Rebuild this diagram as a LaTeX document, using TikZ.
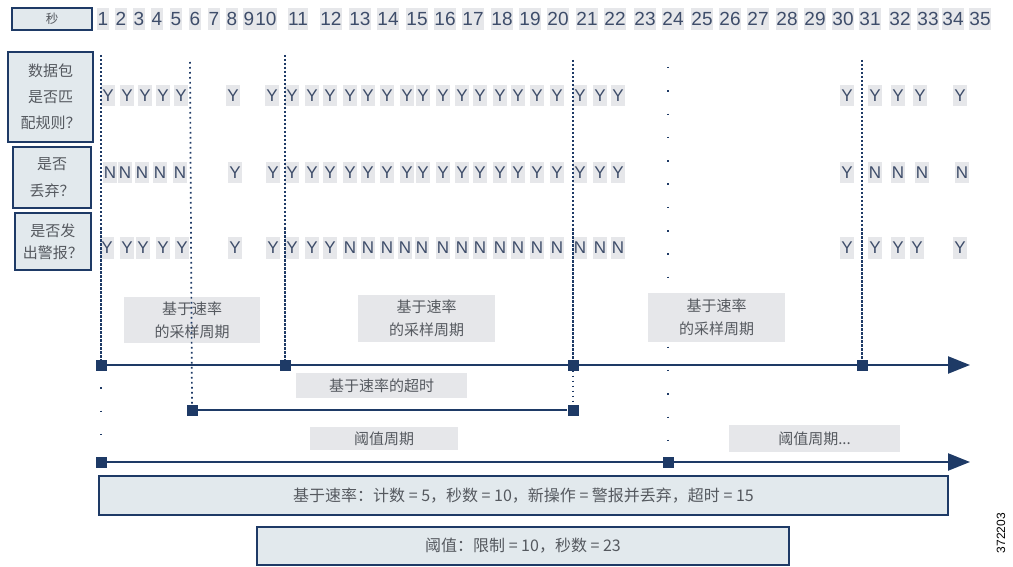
\documentclass[tikz,border=0pt]{standalone}
\usepackage{fontspec}
\setmainfont{Liberation Sans}
\newfontfamily\cjk{Noto Sans CJK SC}
\usetikzlibrary{arrows.meta}
\definecolor{navy}{HTML}{1E3A66}
\definecolor{txt}{HTML}{3E4D6A}
\definecolor{lblfill}{HTML}{E2E9ED}
\definecolor{gbg}{HTML}{E6E7EA}
\definecolor{cjktxt}{HTML}{55595F}
\begin{document}
\begin{tikzpicture}[x=1pt,y=-1pt,
  hdr/.style={fill=gbg, text=txt, font=\fontsize{19}{19}\selectfont, inner xsep=0.6pt, inner ysep=0pt, minimum height=22pt},
  yn/.style={fill=gbg, text=txt, font=\fontsize{17}{17}\selectfont, inner sep=0pt, minimum width=14pt, minimum height=21pt},
  lab/.style={draw=navy, line width=2pt, fill=lblfill, text=cjktxt, align=center, inner sep=0pt},
  gbox/.style={fill=gbg, text=cjktxt, font=\cjk\fontsize{15}{23}\selectfont, align=center, inner sep=0pt},
  bbox/.style={draw=navy, line width=2pt, fill=lblfill, text=cjktxt, font=\cjk\fontsize{16}{18}\selectfont, inner sep=0pt},
  sq/.style={fill=navy, minimum size=11pt, inner sep=0pt},
  tl/.style={navy, line width=2.4pt},
  dashv/.style={navy, line width=1.7pt, dash pattern=on 2.5pt off 1.5pt},
  dotv/.style={navy, line width=1.7pt, dash pattern=on 1.6pt off 3.4pt},
  sparse/.style={navy, line width=1.6pt, dash pattern=on 1.5pt off 21.8pt}
]
\useasboundingbox (0,0) rectangle (1013,567);

% left label boxes
\node[lab, minimum width=80pt, minimum height=22pt, font=\cjk\fontsize{12.5}{14}\selectfont] (sec) at (52,19) {秒};
\node[lab, minimum width=85pt, minimum height=90pt, font=\cjk\fontsize{15}{26}\selectfont] (match) at (50.5,97) {数据包\\是否匹\\配规则？};
\node[lab, minimum width=78pt, minimum height=61pt, font=\cjk\fontsize{15}{27}\selectfont] (drop) at (52,177.5) {是否\\丢弃？};
\node[lab, minimum width=76pt, minimum height=57pt, font=\cjk\fontsize{15}{22}\selectfont] (alert) at (53,241.5) {是否发\\出警报？};

% header seconds
\foreach \n/\x in {1/103,2/121,3/139,4/157,5/176,6/195,7/214,8/232,9/249,10/266,
  11/298,12/331,13/360,14/388,15/417,16/445,17/473,18/502,19/530,20/558,
  21/587,22/615,23/645,24/673,25/702,26/730,27/758,28/787,29/815,30/843,
  31/870,32/900,33/928,34/953,35/980}
  \node[hdr] (h\n) at (\x,19) {\n};

% gray labels (under the lines)
\node[gbox, minimum width=136pt, minimum height=46pt] (g1) at (192,320) {基于速率\\的采样周期};
\node[gbox, minimum width=137pt, minimum height=47pt] (g2) at (426.5,318.5) {基于速率\\的采样周期};
\node[gbox, minimum width=171pt, minimum height=25pt] (gto) at (381.5,385.5) {基于速率的超时};
\node[gbox, minimum width=148pt, minimum height=23pt] (gth) at (384,438.5) {阈值周期};
\node[gbox, minimum width=171pt, minimum height=27pt] (gth2) at (814.5,438.5) {阈值周期...};

% Y/N rows
\foreach \x/\t [count=\i] in {108/Y,127/Y,145/Y,163/Y,181/Y,233/Y,272/Y,
  292/Y,312/Y,330/Y,350/Y,368/Y,387/Y,407/Y,423/Y,443/Y,462/Y,480/Y,500/Y,518/Y,537/Y,557/Y,
  580/Y,600/Y,618/Y,847/Y,875/Y,898/Y,920/Y,960/Y}
  \node[yn] (ra\i) at (\x,96) {\t};
\foreach \x/\t [count=\i] in {110/N,125/N,142/N,160/N,180/N,235/Y,273/Y,
  292/Y,312/Y,330/Y,350/Y,368/Y,387/Y,407/Y,423/Y,443/Y,462/Y,480/Y,500/Y,518/Y,537/Y,557/Y,
  580/Y,600/Y,618/Y,847/Y,875/N,898/N,922/N,962/N}
  \node[yn] (rb\i) at (\x,173) {\t};
\foreach \x/\t [count=\i] in {107/Y,127/Y,143/Y,163/Y,182/Y,235/Y,273/Y,
  292/Y,312/Y,330/Y,350/N,368/N,387/N,405/N,422/N,443/N,462/N,480/N,500/N,518/N,537/N,557/N,
  580/N,600/N,618/N,847/Y,875/Y,898/Y,917/Y,960/Y}
  \node[yn] (rc\i) at (\x,248) {\t};

% squares
\node[sq] (s1) at (101,365) {};
\node[sq] (s2) at (285,365) {};
\node[sq] (s3) at (573,365) {};
\node[sq] (s4) at (862,365) {};
\node[sq] (t1) at (192,410) {};
\node[sq] (t2) at (573,410) {};
\node[sq] (p1) at (101,462) {};
\node[sq] (p2) at (668,462) {};

% top ends of vertical lines
\coordinate (v1) at (101,55);
\coordinate (v2) at (190,62);
\coordinate (v3) at (285,55);
\coordinate (v4) at (573,60);
\coordinate (v5) at (668,67);
\coordinate (v6) at (862,60);
\coordinate (d1) at (101,387.25);
\coordinate (d2) at (101,452);
\coordinate (e1) at (970,365);
\coordinate (e2) at (970,462);

% vertical markers
\draw[dashv] (v1) -- (s1);
\draw[dotv] (v2) -- (t1.north);
\draw[dashv] (v3) -- (s2);
\draw[dashv] (v4) -- (s3);
\draw[dotv] (s3) -- (t2);
\draw[dashv] (v6) -- (s4);
\draw[sparse] (v5) -- (p2);
\draw[sparse] (d1) -- (d2);

% third sampling-period label over the sparse dots
\node[gbox, minimum width=137pt, minimum height=49pt] (g3) at (716.5,317.5) {基于速率\\的采样周期};

% timelines
\draw[tl, -{Triangle[length=22pt,width=17pt]}] (s1) -- (e1);
\draw[tl] (t1) -- (t2);
\draw[tl, -{Triangle[length=22pt,width=17pt]}] (p1) -- (e2);
\node[sq] at (s1) {};\node[sq] at (s2) {};\node[sq] at (s3) {};\node[sq] at (s4) {};
\node[sq] at (t1) {};\node[sq] at (t2) {};\node[sq] at (p1) {};\node[sq] at (p2) {};

% bottom boxes
\node[bbox, minimum width=849pt, minimum height=39pt] (rate) at (523.5,495.5) {基于速率：计数 = 5，秒数 = 10，新操作 = 警报并丢弃，超时 = 15};
\node[bbox, minimum width=532pt, minimum height=38pt] (thr) at (523,546) {阈值：限制 = 10，秒数 = 23};

% figure number
\node[rotate=90, font=\fontsize{12}{12}\selectfont, text=black, inner sep=0pt] (fig) at (1001,533) {372203};
\end{tikzpicture}
\end{document}
